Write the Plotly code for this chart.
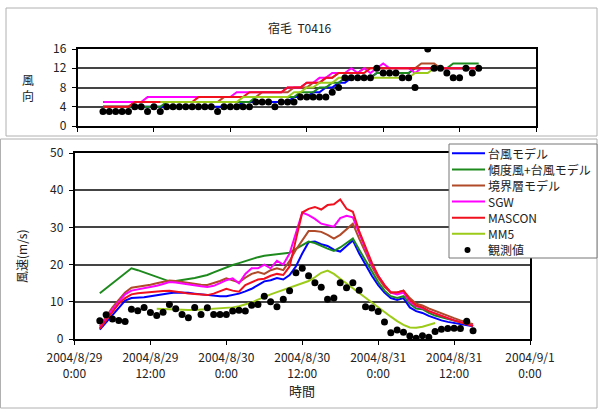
import pandas as pd
import plotly.graph_objects as go

# ---------------- data ----------------
start_obs = "2004-08-29 04:00"   # hourly, 60 values (8/29 4:00 .. 8/31 15:00)
start_mm5 = "2004-08-29 13:00"   # hourly, 45 values (8/29 13:00 .. 8/31 9:00)

series_names = ["台風モデル", "傾度風+台風モデル", "境界層モデル", "SGW", "MASCON", "MM5"]
obs_name = "観測値"

# wind direction (16 points) -------------------------------------------
dir_typhoon = [4]*22 + [5]*8 + [6]*3 + [7]*2 + [8]*2 + [9]*2 + [10]*4 + [11]*6 + [12]*11
dir_gradient = [4]*10 + [5]*14 + [6]*7 + [7]*3 + [8]*2 + [9]*2 + [10]*5 + [11]*6 + [12]*6 + [13]*5
dir_boundary = [4]*5 + [5]*14 + [6]*6 + [7]*5 + [8]*3 + [9]*2 + [10]*2 + [11]*4 + [12]*9 + [13]*3 + [12]*7
dir_sgw = ([5]*7 + [6]*14 + [7]*8 + [8]*3 + [9]*2 + [10]*2 + [11]*3
           + [12, 11, 12, 11, 12] + [13] + [12]*4 + [11] + [12]*10)
dir_mascon = [4]*5 + [5]*10 + [6]*8 + [7]*6 + [8]*3 + [9]*3 + [10]*2 + [11]*5 + [12]*18
dir_mm5 = [5]*13 + [6]*8 + [7]*2 + [8]*2 + [9]*3 + [10]*12 + [11]*3 + [12]*2
dir_obs = ([3]*5 + [4]*2 + [3] + [4] + [3] + [4]*8 + [3] + [4]*5 + [5]*3 + [4] + [5]*3
           + [6]*5 + [7] + [8] + [10]*5 + [12] + [11]*3 + [10]*2 + [8] + [None] + [16]
           + [12]*2 + [11] + [10]*2 + [12] + [11] + [12])

# wind speed (m/s) -----------------------------------------------------
spd_typhoon = [2.5, 4.5, 6.5, 8.5, 10.3, 11.0, 11.0, 11.2, 11.5, 11.8, 12.0, 12.3, 12.5, 12.5,
               12.4, 12.2, 12.0, 11.8, 11.6, 11.5, 11.5, 11.8, 12.2, 12.8, 13.5, 14.5, 15.5,
               15.8, 16.4, 16.0, 17.2, 19.5, 23.0, 26.0, 26.2, 25.5, 25.0, 24.0, 23.5, 25.0,
               26.5, 23.0, 20.0, 17.0, 14.5, 12.5, 11.0, 10.5, 11.0, 8.5, 7.5, 7.0, 6.2, 5.5,
               5.0, 4.6, 4.3, 4.0, 3.7, 3.4]
spd_gradient = [12.3, 13.6, 15.0, 16.3, 17.6, 19.0, 18.5, 17.9, 17.3, 16.7, 16.1, 15.5, 15.6,
                15.8, 16.1, 16.4, 16.8, 17.2, 17.9, 18.6, 19.4, 19.9, 20.4, 21.0, 21.5, 22.0,
                22.4, 22.6, 22.8, 22.8, 23.2, 24.2, 25.3, 26.2, 25.8, 25.0, 24.3, 23.7, 24.6,
                25.8, 27.0, 24.0, 21.0, 18.0, 15.3, 13.0, 11.5, 11.0, 11.5, 9.5, 8.2, 8.0, 7.0,
                6.3, 5.8, 5.3, 4.9, 4.5, 4.1, 3.8]
spd_boundary = [3.5, 6.0, 8.5, 10.5, 12.5, 13.8, 14.0, 14.3, 14.6, 15.0, 15.4, 15.7, 15.6, 15.3,
                15.0, 14.8, 14.6, 14.5, 15.0, 15.6, 16.3, 15.8, 15.2, 16.5, 17.5, 18.0, 17.5,
                18.5, 19.0, 18.5, 21.0, 24.0, 26.5, 29.0, 29.0, 28.8, 28.0, 27.0, 28.0, 29.5,
                31.0, 27.0, 23.0, 19.5, 16.5, 14.0, 12.5, 12.5, 13.0, 11.0, 9.5, 9.0, 8.2, 7.5,
                6.8, 6.2, 5.6, 5.0, 4.5, 4.0]
spd_sgw = [3.0, 5.5, 8.0, 10.0, 12.0, 13.0, 13.3, 13.6, 14.0, 14.3, 14.8, 15.3, 15.2, 14.9,
           14.6, 14.4, 14.2, 14.0, 14.3, 15.0, 15.8, 16.3, 15.0, 17.5, 19.0, 19.0, 20.0, 19.0,
           21.0, 20.0, 23.0, 28.5, 34.0, 33.3, 32.3, 31.0, 30.6, 30.2, 32.5, 33.1, 32.7, 28.5,
           24.0, 20.0, 17.0, 14.5, 12.5, 12.0, 12.5, 10.0, 8.8, 8.3, 7.5, 6.8, 6.2, 5.6, 5.0,
           4.5, 4.0, 3.6]
spd_mascon = [2.8, 5.0, 7.5, 9.5, 11.0, 12.0, 12.3, 12.5, 12.7, 12.8, 12.9, 13.0, 12.8, 12.5,
              12.2, 12.0, 11.9, 11.8, 12.2, 12.8, 13.5, 13.0, 12.7, 14.5, 15.2, 16.0, 16.2,
              17.0, 17.5, 17.2, 19.5, 27.0, 34.0, 35.0, 35.5, 34.8, 36.0, 36.2, 37.5, 35.0,
              34.2, 29.0, 24.5, 20.5, 17.0, 14.5, 12.5, 12.5, 13.0, 10.5, 9.0, 8.5, 7.5, 6.8,
              6.2, 5.6, 5.0, 4.5, 4.0, 3.5]
spd_mm5 = [8.1, 8.0, 8.0, 7.9, 7.8, 7.8, 7.8, 7.9, 8.0, 8.0, 8.1, 8.2, 8.5, 8.8, 9.2, 9.8,
           10.6, 11.4, 12.0, 12.6, 13.2, 13.8, 14.4, 15.0, 15.6, 16.6, 17.8, 18.4, 17.5, 16.2,
           14.9, 13.6, 12.4, 11.0, 9.8, 8.5, 7.2, 6.0, 4.8, 3.8, 3.1, 3.0, 3.3, 3.8, 4.3]
spd_obs = [4.9, 6.5, 5.4, 5.0, 4.7, 8.0, 7.6, 8.5, 7.1, 6.3, 7.2, 9.3, 8.1, 6.6, 5.7, 8.5,
           6.6, 8.4, 6.6, 6.6, 6.6, 7.5, 7.7, 7.5, 9.1, 9.3, 11.5, 10.0, 8.7, 10.7, 13.0, 17.8,
           19.0, 17.0, 15.1, 13.9, 10.7, 11.0, 15.1, 13.8, 15.1, 13.1, 8.7, 8.3, 7.4, 4.6, 1.7,
           2.4, 1.8, 0.8, 0.2, 0.9, 0.5, 2.0, 2.6, 2.8, 2.9, 2.8, 4.8, 2.2]

tick_times = ["2004-08-29 00:00", "2004-08-29 12:00", "2004-08-30 00:00", "2004-08-30 12:00",
              "2004-08-31 00:00", "2004-08-31 12:00", "2004-09-01 00:00"]
tick_labels = ["2004/8/29<br>0:00", "2004/8/29<br>12:00", "2004/8/30<br>0:00",
               "2004/8/30<br>12:00", "2004/8/31<br>0:00", "2004/8/31<br>12:00",
               "2004/9/1<br>0:00"]

title_text = "宿毛  T0416"
ylabel_top = "風<br>向"
ylabel_bottom = "風速(m/s)"
xlabel = "時間"

# ---------------- figure ----------------
W, H = 598, 412
colors = ["#0000FF", "#1E8A1E", "#B04A28", "#FF00FF", "#F0101E", "#9CCB19"]
FONT = "Noto Sans CJK JP"
TXT = "#222222"

t_obs = pd.date_range(start_obs, periods=len(spd_obs), freq="h")
t_mm5 = pd.date_range(start_mm5, periods=len(spd_mm5), freq="h")

dir_models = [dir_typhoon, dir_gradient, dir_boundary, dir_sgw, dir_mascon, dir_mm5]
spd_models = [spd_typhoon, spd_gradient, spd_boundary, spd_sgw, spd_mascon, spd_mm5]

fig = go.Figure()
for i, name in enumerate(series_names):
    t = t_mm5 if name == "MM5" else t_obs
    fig.add_trace(go.Scatter(x=t, y=dir_models[i], mode="lines", name=name,
                             line=dict(color=colors[i], width=2), showlegend=False,
                             xaxis="x", yaxis="y"))
fig.add_trace(go.Scatter(x=t_obs, y=dir_obs, mode="markers", name=obs_name,
                         marker=dict(color="black", size=7), showlegend=False,
                         xaxis="x", yaxis="y"))
for i, name in enumerate(series_names):
    t = t_mm5 if name == "MM5" else t_obs
    fig.add_trace(go.Scatter(x=t, y=spd_models[i], mode="lines", name=name,
                             line=dict(color=colors[i], width=2), showlegend=False,
                             xaxis="x2", yaxis="y2"))
fig.add_trace(go.Scatter(x=t_obs, y=spd_obs, mode="markers", name=obs_name,
                         marker=dict(color="black", size=7), showlegend=False,
                         xaxis="x2", yaxis="y2"))


def px_x(a, b):
    return [a / W, b / W]


def px_y(top, bottom):
    return [1 - bottom / H, 1 - top / H]


def fx(p):
    return p / W


def fy(p):
    return 1 - p / H


axis_common = dict(showline=True, linecolor="black", linewidth=1.5, mirror=True,
                   ticks="outside", ticklen=4, tickcolor="black",
                   tickfont=dict(family=FONT, size=12, color=TXT), automargin=False)

xrange = ["2004-08-29 00:00", "2004-09-01 00:00"]
fig.update_layout(
    width=W, height=H, margin=dict(l=0, r=0, t=0, b=0),
    paper_bgcolor="white", plot_bgcolor="white", template="none",
    font=dict(family=FONT, size=12, color=TXT),
    showlegend=False,
    xaxis=dict(domain=px_x(77.5, 536), range=xrange, type="date", tickvals=tick_times,
               ticktext=[""] * len(tick_times), showgrid=False, anchor="y", **axis_common),
    yaxis=dict(domain=px_y(49, 126), range=[0, 16], tickvals=[0, 4, 8, 12, 16],
               showgrid=True, gridcolor="#444", gridwidth=1.5, anchor="x",
               ticklabelstandoff=3, **axis_common),
    xaxis2=dict(domain=px_x(74.5, 530), range=xrange, type="date", tickvals=tick_times,
                ticktext=tick_labels, showgrid=False, anchor="y2", ticklabelstandoff=3,
                **axis_common),
    yaxis2=dict(domain=px_y(153, 339), range=[0, 50], tickvals=[0, 10, 20, 30, 40, 50],
                showgrid=True, gridcolor="#444", gridwidth=1.5, anchor="x2",
                ticklabelstandoff=3, **axis_common),
)

# chart-area frames
shapes = [
    dict(type="rect", xref="paper", yref="paper", x0=fx(6), x1=fx(597),
         y0=fy(136), y1=fy(8), line=dict(color="#B0B0B0", width=1)),
    dict(type="rect", xref="paper", yref="paper", x0=fx(0.5), x1=fx(597),
         y0=fy(408), y1=fy(139), line=dict(color="#B0B0B0", width=1)),
]

# legend (box, samples and texts)
leg_x0, leg_x1, leg_y0, leg_y1 = 449, 597, 144, 258
shapes.append(dict(type="rect", xref="paper", yref="paper", x0=fx(leg_x0), x1=fx(leg_x1),
                   y0=fy(leg_y1), y1=fy(leg_y0), fillcolor="white",
                   line=dict(color="#777777", width=1), layer="above"))
legend_names = series_names + [obs_name]
for i, name in enumerate(legend_names):
    yc = 153.3 + 16.1 * i
    if i < len(series_names):
        shapes.append(dict(type="line", xref="paper", yref="paper", x0=fx(452), x1=fx(485),
                           y0=fy(yc), y1=fy(yc), line=dict(color=colors[i], width=2),
                           layer="above"))
    else:
        shapes.append(dict(type="circle", xref="paper", yref="paper", x0=fx(464.5),
                           x1=fx(470.5), y0=fy(yc + 3), y1=fy(yc - 3), fillcolor="black",
                           line=dict(color="black", width=0), layer="above"))
    fig.add_annotation(text=name, xref="paper", yref="paper", x=fx(486), y=fy(yc),
                       xanchor="left", yanchor="middle", showarrow=False,
                       font=dict(family=FONT, size=12, color=TXT))
fig.update_layout(shapes=shapes)

fig.add_annotation(text=title_text, xref="paper", yref="paper", x=fx(300), y=fy(28),
                   xanchor="center", yanchor="middle", showarrow=False,
                   font=dict(family=FONT, size=12, color=TXT))
fig.add_annotation(text=ylabel_top, xref="paper", yref="paper", x=fx(28), y=fy(87),
                   xanchor="center", yanchor="middle", showarrow=False,
                   font=dict(family=FONT, size=12, color=TXT))
fig.add_annotation(text=ylabel_bottom, xref="paper", yref="paper", x=fx(22), y=fy(256),
                   xanchor="center", yanchor="middle", showarrow=False, textangle=-90,
                   font=dict(family=FONT, size=12, color=TXT))
fig.add_annotation(text=xlabel, xref="paper", yref="paper", x=fx(302), y=fy(390),
                   xanchor="center", yanchor="middle", showarrow=False,
                   font=dict(family=FONT, size=13, color=TXT))

fig.write_html("out.html", config={"displayModeBar": False},
               post_script="document.body.style.margin='0px';document.body.style.overflow='hidden';")
